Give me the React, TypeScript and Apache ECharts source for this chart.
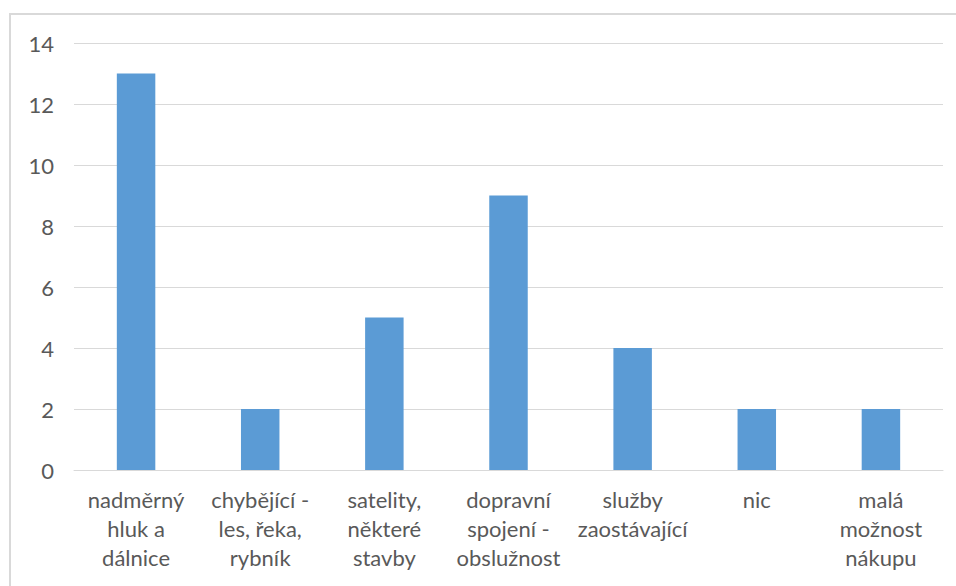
import React, { useEffect, useRef } from "react";
import * as echarts from "echarts";

const categories = [
  "nadměrný\nhluk a\ndálnice",
  "chybějící -\nles, řeka,\nrybník",
  "satelity,\nněkteré\nstavby",
  "dopravní\nspojení -\nobslužnost",
  "služby\nzaostávající",
  "nic",
  "malá\nmožnost\nnákupu",
];
const values = [13, 2, 5, 9, 4, 2, 2];

export default function App() {
  const ref = useRef<HTMLDivElement>(null);
  useEffect(() => {
    if (!ref.current) return;
    const chart = echarts.init(ref.current, null, { renderer: "svg" });
    const font = "Lato, 'Open Sans', sans-serif";
    chart.setOption({
      animation: false,
      backgroundColor: "#ffffff",
      graphic: [
        {
          type: "rect",
          shape: { x: 10, y: 14, width: 960, height: 580 },
          style: { fill: "none", stroke: "#d9d9d9", lineWidth: 2 },
          silent: true,
        },
      ],
      grid: { left: 74, right: 13, top: 43, bottom: 116 },
      xAxis: {
        type: "category",
        data: categories,
        axisLine: { lineStyle: { color: "#d9d9d9", width: 1 } },
        axisTick: { show: false },
        axisLabel: {
          color: "#595959",
          fontFamily: font,
          fontSize: 22,
          lineHeight: 29,
          margin: 15,
          interval: 0,
        },
      },
      yAxis: {
        type: "value",
        min: 0,
        max: 14,
        interval: 2,
        axisLine: { show: false },
        axisTick: { show: false },
        splitLine: { lineStyle: { color: "#d9d9d9", width: 1 } },
        axisLabel: {
          color: "#595959",
          fontFamily: font,
          fontSize: 22,
          margin: 20,
        },
      },
      series: [
        {
          type: "bar",
          data: values,
          barWidth: "31%",
          itemStyle: { color: "#5b9bd5" },
        },
      ],
    });
    return () => chart.dispose();
  }, []);
  return (
    <div
      ref={ref}
      style={{ position: "fixed", left: 0, top: 0, width: 956, height: 586 }}
    />
  );
}
